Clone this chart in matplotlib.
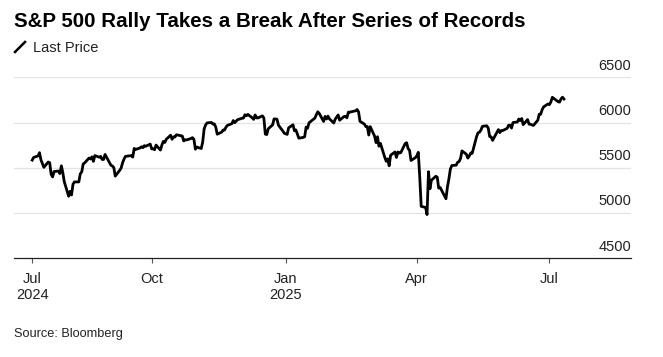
import matplotlib

matplotlib.use("Agg")
import matplotlib.pyplot as plt
import pandas as pd
from matplotlib.lines import Line2D
from matplotlib.transforms import blended_transform_factory

TITLE = "S&P 500 Rally Takes a Break After Series of Records"
LEGEND = "Last Price"
SOURCE = "Source: Bloomberg"

# exchange closures inside the window (weekdays with no close)
HOLIDAYS = ["2024-09-02", "2024-11-28", "2024-12-25", "2025-01-01", "2025-01-09",
            "2025-01-20", "2025-02-17", "2025-04-18", "2025-05-26", "2025-06-19",
            "2025-07-04"]

# daily closes, one list per month
jul24 = [5585, 5615, 5631, 5667, 5588, 5545, 5505, 5564, 5556, 5427, 5399, 5459,
         5464, 5436, 5522]
aug24 = [5447, 5347, 5186, 5240, 5200, 5319, 5344, 5344, 5434, 5455, 5543, 5554,
         5608, 5597, 5621, 5571, 5635, 5617, 5626, 5592, 5592, 5648]
sep24 = [5529, 5520, 5503, 5408, 5471, 5496, 5554, 5596, 5626, 5633, 5635, 5618,
         5714, 5703, 5719, 5733, 5722, 5745, 5738, 5762]
oct24 = [5709, 5710, 5700, 5751, 5696, 5751, 5792, 5780, 5815, 5860, 5815, 5842,
         5841, 5865, 5854, 5851, 5797, 5810, 5808, 5824, 5833, 5814, 5705]
nov24 = [5729, 5713, 5783, 5929, 5973, 5996, 6001, 5984, 5985, 5949, 5871, 5894,
         5917, 5917, 5949, 5969, 5987, 6022, 5999, 6032]
dec24 = [6047, 6050, 6086, 6075, 6090, 6053, 6035, 6084, 6051, 6051, 6074, 6051,
         5872, 5867, 5931, 5974, 6040, 6038, 5971, 5907, 5882]
jan25 = [5869, 5942, 5975, 5909, 5918, 5827, 5836, 5843, 5950, 5937, 5997, 6049,
         6086, 6119, 6101, 6012, 6068, 6039, 6071, 6041]
feb25 = [5995, 6038, 6061, 6084, 6026, 6066, 6069, 6052, 6115, 6115, 6130, 6144,
         6118, 6013, 5983, 5955, 5956, 5862, 5955]
mar25 = [5850, 5778, 5843, 5739, 5770, 5615, 5572, 5599, 5522, 5639, 5675, 5615,
         5675, 5663, 5668, 5768, 5777, 5712, 5693, 5581, 5612]
apr25 = [5633, 5671, 5397, 5074, 5062, 4983, 5457, 5268, 5363, 5406, 5397, 5276,
         5283, 5158, 5288, 5376, 5485, 5525, 5529, 5561, 5569]
may25 = [5604, 5687, 5650, 5607, 5631, 5664, 5660, 5844, 5887, 5893, 5917, 5958,
         5964, 5940, 5845, 5842, 5803, 5922, 5889, 5912, 5912]
jun25 = [5936, 5970, 5971, 5939, 6000, 6006, 6039, 6022, 6045, 5977, 6033, 5983,
         5981, 5968, 6025, 6092, 6092, 6141, 6173, 6205]
jul25 = [6198, 6227, 6279, 6230, 6226, 6263, 6280, 6260]

MONTHS = [
    ("2024-07-11", "2024-07-31", jul24), ("2024-08-01", "2024-08-31", aug24),
    ("2024-09-01", "2024-09-30", sep24), ("2024-10-01", "2024-10-31", oct24),
    ("2024-11-01", "2024-11-30", nov24), ("2024-12-01", "2024-12-31", dec24),
    ("2025-01-01", "2025-01-31", jan25), ("2025-02-01", "2025-02-28", feb25),
    ("2025-03-01", "2025-03-31", mar25), ("2025-04-01", "2025-04-30", apr25),
    ("2025-05-01", "2025-05-31", may25), ("2025-06-01", "2025-06-30", jun25),
    ("2025-07-01", "2025-07-11", jul25),
]

Y_TICKS = [4500, 5000, 5500, 6000, 6500]
X_TICKS = ["2024-07-11", "2024-10-01", "2025-01-01", "2025-04-01", "2025-07-01"]
X_LABELS = ["Jul\n2024", "Oct", "Jan\n2025", "Apr", "Jul"]

plt.rcParams["font.family"] = ["Liberation Sans", "DejaVu Sans"]

dates, closes = [], []
for start, end, vals in MONTHS:
    days = pd.bdate_range(start, end, freq="C", holidays=HOLIDAYS)
    assert len(days) == len(vals), (start, len(days), len(vals))
    dates.extend(days)
    closes.extend(vals)

W, H = 663, 357
fig = plt.figure(figsize=(W / 100, H / 100), dpi=100)
ax = fig.add_axes([14 / W, 1 - 258.3 / H, (631 - 14) / W, (258.3 - 77.3) / H])

ax.plot(dates, closes, color="black", lw=2.0, solid_joinstyle="round", zorder=3)

ax.set_ylim(4500, 6500)
ax.set_xlim(pd.Timestamp("2024-06-28 12:00"), pd.Timestamp("2025-08-26"))
for v in Y_TICKS[1:]:
    ax.axhline(v, color="#e3e3e3", lw=0.9, zorder=1)
ax.set_yticks([])

trans = blended_transform_factory(ax.transAxes, ax.transData)
for v in Y_TICKS:
    ax.annotate(f"{v}", xy=(1, v), xycoords=trans, xytext=(0, 5.5),
                textcoords="offset points", ha="right", va="baseline",
                fontsize=10.5, color="#222222")

ax.set_xticks(pd.to_datetime(X_TICKS))
ax.set_xticklabels(X_LABELS, fontsize=10.5, color="#222222", linespacing=1.25)
ax.tick_params(axis="x", length=3.6, width=0.8, color="#555555", pad=6)

for side in ("top", "left", "right"):
    ax.spines[side].set_visible(False)
ax.spines["bottom"].set_color("#222222")
ax.spines["bottom"].set_linewidth(0.9)

fig.text(14 / W, 1 - 27.3 / H, TITLE, fontsize=14.8, fontweight="bold",
         va="baseline", ha="left", color="black")
fig.add_artist(Line2D([15 / W, 25 / W], [1 - 52 / H, 1 - 42 / H],
                      transform=fig.transFigure, color="black", lw=1.8))
fig.text(33 / W, 1 - 52.3 / H, LEGEND, fontsize=10.5, va="baseline", ha="left",
         color="#222222")
fig.text(14 / W, 1 - 337 / H, SOURCE, fontsize=9.2, va="baseline", ha="left",
         color="#222222")

fig.savefig("out.png", dpi=100)
